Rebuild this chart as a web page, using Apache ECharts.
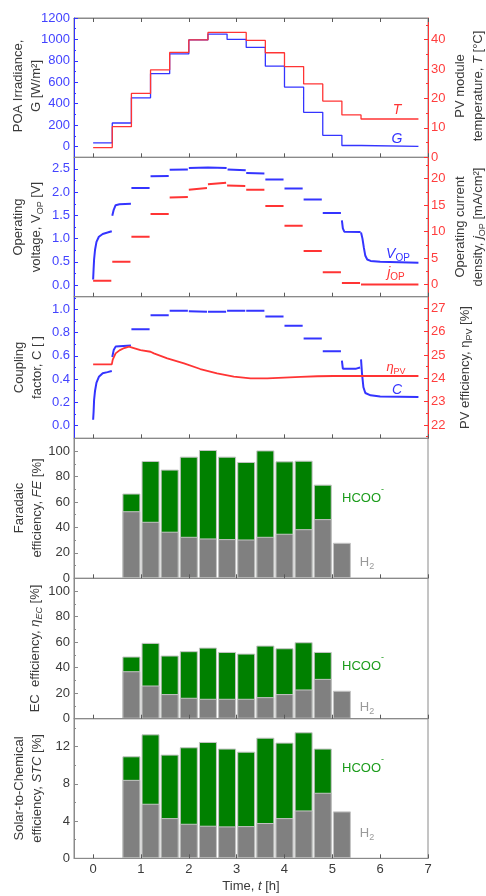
<!DOCTYPE html>
<html>
<head>
<meta charset="utf-8">
<script src="https://cdn.jsdelivr.net/npm/echarts@6/dist/echarts.min.js"></script>
<style>
  html, body { margin: 0; padding: 0; background: #fff; }
  #chart { width: 486px; height: 896px; }
</style>
</head>
<body>
<div id="chart"></div>
<script>
// ---------- data ----------
// hourly-block step values (0.4 h blocks; last point closes the final block)
const stepTimes   = [0, 0.4, 0.8, 1.2, 1.6, 2.0, 2.4, 2.8, 3.2, 3.6, 4.0, 4.4, 4.8, 5.2, 5.6, 6.8];
const irradiance  = [35, 220, 455, 680, 865, 995, 1050, 1000, 925, 750, 555, 320, 105, 10, 2, 2];
const moduleTemp  = [3.3, 10.4, 21.7, 29.7, 35.6, 39.9, 42.4, 42.4, 39.7, 35.5, 30.8, 24.9, 19.1, 14.4, 13.0, 13.0];

// operating voltage, recorded in separate blocks [t (h), V]
const vopSegments = [
  [[0.00, 0.12], [0.01, 0.35], [0.02, 0.55], [0.04, 0.76], [0.07, 0.93], [0.12, 1.04], [0.20, 1.10], [0.30, 1.13], [0.39, 1.16]],
  [[0.40, 1.49], [0.43, 1.62], [0.47, 1.72], [0.55, 1.74], [0.79, 1.75]],
  [[0.80, 2.09], [1.18, 2.09]],
  [[1.20, 2.34], [1.58, 2.35]],
  [[1.60, 2.48], [1.98, 2.49]],
  [[2.00, 2.52], [2.40, 2.53], [2.79, 2.52]],
  [[2.81, 2.49], [3.19, 2.47]],
  [[3.20, 2.41], [3.58, 2.40]],
  [[3.60, 2.27], [3.98, 2.27]],
  [[4.00, 2.08], [4.38, 2.08]],
  [[4.40, 1.84], [4.78, 1.84]],
  [[4.80, 1.55], [5.18, 1.55]],
  [[5.20, 1.39], [5.22, 1.22], [5.25, 1.15], [5.59, 1.14]],
  [[5.60, 1.13], [5.63, 1.00], [5.66, 0.80], [5.69, 0.63], [5.73, 0.55], [5.80, 0.52], [6.00, 0.50], [6.80, 0.48]]
];

// operating current density [t (h), mA/cm2]
const jopSegments = [
  [[0.00, 0.7], [0.38, 0.7]],
  [[0.40, 4.3], [0.78, 4.3]],
  [[0.80, 9.0], [1.18, 9.0]],
  [[1.20, 13.3], [1.58, 13.3]],
  [[1.60, 16.4], [1.98, 16.5]],
  [[2.00, 17.9], [2.38, 18.2]],
  [[2.40, 18.9], [2.78, 19.2]],
  [[2.80, 18.7], [3.18, 18.6]],
  [[3.20, 17.9], [3.58, 17.9]],
  [[3.60, 14.8], [3.98, 14.8]],
  [[4.00, 11.1], [4.38, 11.1]],
  [[4.40, 6.3], [4.78, 6.3]],
  [[4.80, 2.3], [5.18, 2.3]],
  [[5.20, 0.3], [5.58, 0.3]],
  [[5.60, 0.0], [6.80, 0.0]]
];

// coupling factor [t (h), C]
const couplingSegments = [
  [[0.00, 0.05], [0.01, 0.12], [0.02, 0.22], [0.04, 0.30], [0.07, 0.37], [0.12, 0.42], [0.20, 0.45], [0.30, 0.46], [0.39, 0.47]],
  [[0.40, 0.59], [0.43, 0.65], [0.47, 0.68], [0.79, 0.69]],
  [[0.80, 0.83], [1.18, 0.83]],
  [[1.20, 0.95], [1.58, 0.95]],
  [[1.60, 0.99], [1.98, 0.99]],
  [[2.00, 0.985], [2.38, 0.98]],
  [[2.40, 0.98], [2.78, 0.98]],
  [[2.80, 0.99], [3.18, 0.99]],
  [[3.20, 0.99], [3.58, 0.99]],
  [[3.60, 0.94], [3.98, 0.94]],
  [[4.00, 0.86], [4.38, 0.86]],
  [[4.40, 0.75], [4.78, 0.75]],
  [[4.80, 0.64], [5.18, 0.64]],
  [[5.20, 0.56], [5.22, 0.49], [5.50, 0.49], [5.58, 0.50]],
  [[5.60, 0.57], [5.62, 0.45], [5.65, 0.33], [5.69, 0.28], [5.80, 0.26], [6.00, 0.25], [6.80, 0.245]]
];

// PV efficiency
const pvEffTime  = [0, 0.39, 0.41, 0.47, 0.55, 0.65, 0.75, 0.85, 0.99, 1.20, 1.27, 1.55, 1.90, 2.24, 2.59, 2.94, 3.29, 3.64, 3.99, 4.34, 4.69, 5.03, 6.80];
const pvEffValue = [24.6, 24.6, 24.8, 25.07, 25.2, 25.3, 25.36, 25.3, 25.21, 25.14, 25.07, 24.86, 24.64, 24.4, 24.21, 24.07, 24.0, 24.0, 24.03, 24.06, 24.09, 24.1, 24.1];

// product-resolved efficiencies per 0.4 h block
const barTimes = [0.8, 1.2, 1.6, 2.0, 2.4, 2.8, 3.2, 3.6, 4.0, 4.4, 4.8, 5.2];
const feH2     = [52.7, 44.4, 36.6, 32.6, 31.3, 30.8, 30.5, 32.6, 35.0, 38.6, 46.5, 27.9];
const feHCOO   = [13.9, 47.8, 48.8, 63.0, 69.5, 64.8, 60.9, 67.9, 56.9, 53.8, 27.1, null];
const ecH2     = [37.2, 26.0, 19.3, 16.4, 15.6, 15.6, 15.6, 16.9, 19.3, 22.9, 31.2, 21.9];
const ecHCOO   = [11.5, 33.4, 30.2, 36.5, 40.1, 36.7, 35.4, 40.4, 35.9, 37.0, 21.1, null];
const stcH2    = [8.43, 5.86, 4.32, 3.71, 3.50, 3.43, 3.46, 3.79, 4.32, 5.14, 7.04, 5.04];
const stcHCOO  = [2.53, 7.46, 6.82, 8.22, 9.00, 8.36, 8.00, 9.17, 8.11, 8.40, 4.75, null];

// tick values
const timeTicks  = [0, 1, 2, 3, 4, 5, 6, 7];
const gTicks     = [0, 200, 400, 600, 800, 1000, 1200];
const tTicks     = [0, 10, 20, 30, 40];
const vTicks     = [0, 0.5, 1.0, 1.5, 2.0, 2.5];
const jTicks     = [0, 5, 10, 15, 20];
const cTicks     = [0, 0.2, 0.4, 0.6, 0.8, 1.0];
const etaTicks   = [22, 23, 24, 25, 26, 27];
const pctTicks   = [0, 20, 40, 60, 80, 100];
const stcTicks   = [0, 4, 8, 12];

// ---------- style ----------
const FONT = "'Liberation Sans', Arial, sans-serif";
const BLUE = '#3434ff', BLUE_TXT = '#4343ff';
const RED = '#ff3434', RED_TXT = '#ff3d3d';
const FRAME = '#8a8a8a', DARK = '#3a3a3a';
const GREEN = '#008000', GREEN_TXT = '#1c9c1c', H2_TXT = '#9a9a9a';
const BAR_GRAY = '#808080', BAR_EDGE = '#c4c4c4';

const LEFT = 74, RIGHT = 428;
const X_MIN = -0.4, X_MAX = 7;
const panels = [[18, 157.3], [157.3, 296.7], [296.7, 438.3], [438.3, 578.3], [578.3, 718.7], [718.7, 858.3]];

const grids = panels.map(([t, b]) => ({
  left: LEFT, top: t, width: RIGHT - LEFT, height: b - t,
  show: true, borderColor: FRAME, borderWidth: 1, backgroundColor: 'transparent'
}));

const xAxes = [], yAxes = [], series = [];

function addX(gi, position, labels) {
  xAxes.push({
    type: 'value', gridIndex: gi, position, min: X_MIN, max: X_MAX, z: 10,
    axisLine: { show: true, onZero: false, lineStyle: { color: FRAME, width: 1 } },
    axisTick: { show: true, inside: true, length: 4, customValues: timeTicks, lineStyle: { color: '#5a5a5a' } },
    axisLabel: { show: labels, customValues: timeTicks, margin: 5, color: DARK, fontSize: 13, fontFamily: FONT },
    splitLine: { show: false }
  });
  return xAxes.length - 1;
}

function minorsOf(ticks) {
  const step = ticks[1] - ticks[0];
  return ticks.map(v => +(v + step / 2).toFixed(4));
}

function addY(gi, side, min, max, ticks, lineColor, textColor, fmt, extraMinor) {
  yAxes.push({
    type: 'value', gridIndex: gi, position: side, min, max, z: 10,
    axisLine: { show: true, onZero: false, lineStyle: { color: lineColor, width: 1 } },
    axisTick: { show: true, inside: true, length: 4, customValues: ticks, lineStyle: { color: lineColor } },
    axisLabel: { show: true, customValues: ticks, formatter: fmt, color: textColor, fontSize: 13, fontFamily: FONT, margin: side === 'left' ? 4 : 3 },
    splitLine: { show: false }
  });
  const idx = yAxes.length - 1;
  const minor = minorsOf(ticks).concat(extraMinor || []).filter(v => v > min && v < max);
  // companion axis carrying the short minor ticks
  yAxes.push({
    type: 'value', gridIndex: gi, position: side, min, max, z: 10,
    axisLine: { show: false, onZero: false },
    axisTick: { show: true, inside: true, length: 2, customValues: minor, lineStyle: { color: lineColor } },
    axisLabel: { show: false, customValues: minor },
    splitLine: { show: false }
  });
  return idx;
}

const one = v => v.toFixed(1);
const plain = v => String(v);

// x axes (bottom of every panel; frame ticks on top of the first one)
const xi = panels.map((p, i) => addX(i, 'bottom', i === 5));
addX(0, 'top', false);

// y axes
const yG   = addY(0, 'left', -100, 1200, gTicks, BLUE, BLUE_TXT, plain);
const yT   = addY(0, 'right', 0, 47.3, tTicks, RED, RED_TXT, plain);
const yV   = addY(1, 'left', -0.25, 2.75, vTicks, BLUE, BLUE_TXT, one);
const yJ   = addY(1, 'right', -2.3, 24, jTicks, RED, RED_TXT, plain);
const yC   = addY(2, 'left', -0.11, 1.11, cTicks, BLUE, BLUE_TXT, one);
const yEta = addY(2, 'right', 21.43, 27.5, etaTicks, RED, RED_TXT, plain, [21.5]);
const yFE  = addY(3, 'left', 0, 110, pctTicks, FRAME, DARK, plain);
const yEC  = addY(4, 'left', 0, 110, pctTicks, FRAME, DARK, plain);
const ySTC = addY(5, 'left', 0, 15, stcTicks, FRAME, DARK, plain);

function joinSegments(segs) {
  const out = [];
  segs.forEach((s, k) => {
    if (k > 0) out.push([s[0][0], null]);
    s.forEach(p => out.push(p));
  });
  return out;
}

function lineSeries(name, xIdx, yIdx, data, color, width, step) {
  return {
    name, type: 'line', xAxisIndex: xIdx, yAxisIndex: yIdx, data,
    step: step || false, showSymbol: false, symbol: 'none', connectNulls: false,
    lineStyle: { color, width }, itemStyle: { color }, z: 3, silent: true
  };
}

series.push(lineSeries('G', xi[0], yG, stepTimes.map((t, k) => [t, irradiance[k]]), BLUE, 1.3, 'end'));
series.push(lineSeries('T', xi[0], yT, stepTimes.map((t, k) => [t, moduleTemp[k]]), RED, 1.3, 'end'));
series.push(lineSeries('V_OP', xi[1], yV, joinSegments(vopSegments), BLUE, 2));
series.push(lineSeries('j_OP', xi[1], yJ, joinSegments(jopSegments), RED, 2));
series.push(lineSeries('C', xi[2], yC, joinSegments(couplingSegments), BLUE, 2));
series.push(lineSeries('eta_PV', xi[2], yEta, pvEffTime.map((t, k) => [t, pvEffValue[k]]), RED, 1.8));

// stacked columns: the HCOO- block sits on top of the H2 block
function barPair(key, xIdx, yIdx, h2, hcoo) {
  const common = { type: 'bar', xAxisIndex: xIdx, yAxisIndex: yIdx, barWidth: 18, barGap: '-100%', silent: true };
  series.push(Object.assign({ name: key + '_HCOO', z: 2,
    data: barTimes.map((t, k) => [t, hcoo[k] == null ? null : h2[k] + hcoo[k]]),
    itemStyle: { color: GREEN, borderColor: BAR_EDGE, borderWidth: 1 } }, common));
  series.push(Object.assign({ name: key + '_H2', z: 2,
    data: barTimes.map((t, k) => [t, h2[k]]),
    itemStyle: { color: BAR_GRAY, borderColor: BAR_EDGE, borderWidth: 1 } }, common));
}
barPair('fe', xi[3], yFE, feH2, feHCOO);
barPair('ec', xi[4], yEC, ecH2, ecHCOO);
barPair('stc', xi[5], ySTC, stcH2, stcHCOO);

// ---------- text ----------
function rich(color, size) {
  const base = { fontFamily: FONT, fontSize: size, fill: color, color: color, lineHeight: 18 };
  return {
    n: Object.assign({}, base),
    i: Object.assign({}, base, { fontStyle: 'italic' }),
    s: Object.assign({}, base, { fontSize: Math.round(size * 0.7), lineHeight: 11, verticalAlign: 'bottom' }),
    si: Object.assign({}, base, { fontSize: Math.round(size * 0.7), fontStyle: 'italic', lineHeight: 11, verticalAlign: 'bottom' }),
    sup: Object.assign({}, base, { fontSize: Math.round(size * 0.7), lineHeight: 26, verticalAlign: 'top' })
  };
}

function txt(x, y, text, color, size, rotate) {
  return {
    type: 'text', x, y, rotation: rotate ? Math.PI / 2 : 0, silent: true, z: 20,
    style: {
      text, rich: rich(color, size), fill: color,
      textAlign: 'center', textVerticalAlign: 'middle', align: 'center', verticalAlign: 'middle',
      font: size + 'px ' + FONT
    }
  };
}

const graphics = [
  // left axis titles
  txt(27.5, 86, '{n|POA Irradiance,}\n{n|G [W/m²]}', DARK, 13, true),
  txt(27.5, 227, '{n|Operating}\n{n|voltage, V}{s|OP}{n| [V]}', DARK, 13, true),
  txt(28.5, 367.5, '{n|Coupling}\n{n|factor, C [ ]}', DARK, 13, true),
  txt(28.5, 508, '{n|Faradaic}\n{n|efficiency, }{i|FE}{n| [%]}', DARK, 13, true),
  txt(35, 648.5, '{n|EC  efficiency, }{i|η}{si|EC}{n| [%]}', DARK, 13, true),
  txt(28, 788.5, '{n|Solar-to-Chemical}\n{n|efficiency, }{i|STC}{n| [%]}', DARK, 13, true),
  // right axis titles
  txt(469, 86, '{n|PV module}\n{n|temperature, }{i|T}{n| [°C]}', DARK, 13, true),
  txt(469, 227, '{n|Operating current}\n{n|density, }{i|j}{s|OP}{n| [mA/cm²]}', DARK, 13, true),
  txt(465, 367.5, '{n|PV efficiency, η}{s|PV}{n| [%]}', DARK, 13, true),
  // time axis title
  txt(251, 886, '{n|Time, }{i|t}{n| [h]}', DARK, 13, false),
  // series tags
  txt(397, 110, '{i|T}', RED, 14, false),
  txt(397, 139, '{i|G}', BLUE, 14, false),
  txt(398, 254, '{i|V}{s|OP}', BLUE, 14, false),
  txt(396, 273, '{i|j}{s|OP}', RED, 14, false),
  txt(396, 367, '{i|η}{s|PV}', RED, 13, false),
  txt(397, 390, '{i|C}', BLUE, 14, false),
  txt(363, 498, '{n|HCOO}{sup|-}', GREEN_TXT, 13, false),
  txt(367, 562, '{n|H}{s|2}', H2_TXT, 13, false),
  txt(363, 666, '{n|HCOO}{sup|-}', GREEN_TXT, 13, false),
  txt(367, 707, '{n|H}{s|2}', H2_TXT, 13, false),
  txt(363, 768, '{n|HCOO}{sup|-}', GREEN_TXT, 13, false),
  txt(367, 833, '{n|H}{s|2}', H2_TXT, 13, false)
];

const chart = echarts.init(document.getElementById('chart'), null, { renderer: 'canvas' });
chart.setOption({
  animation: false,
  backgroundColor: '#ffffff',
  textStyle: { fontFamily: FONT },
  grid: grids,
  xAxis: xAxes,
  yAxis: yAxes,
  series,
  graphic: graphics
});
</script>
</body>
</html>
